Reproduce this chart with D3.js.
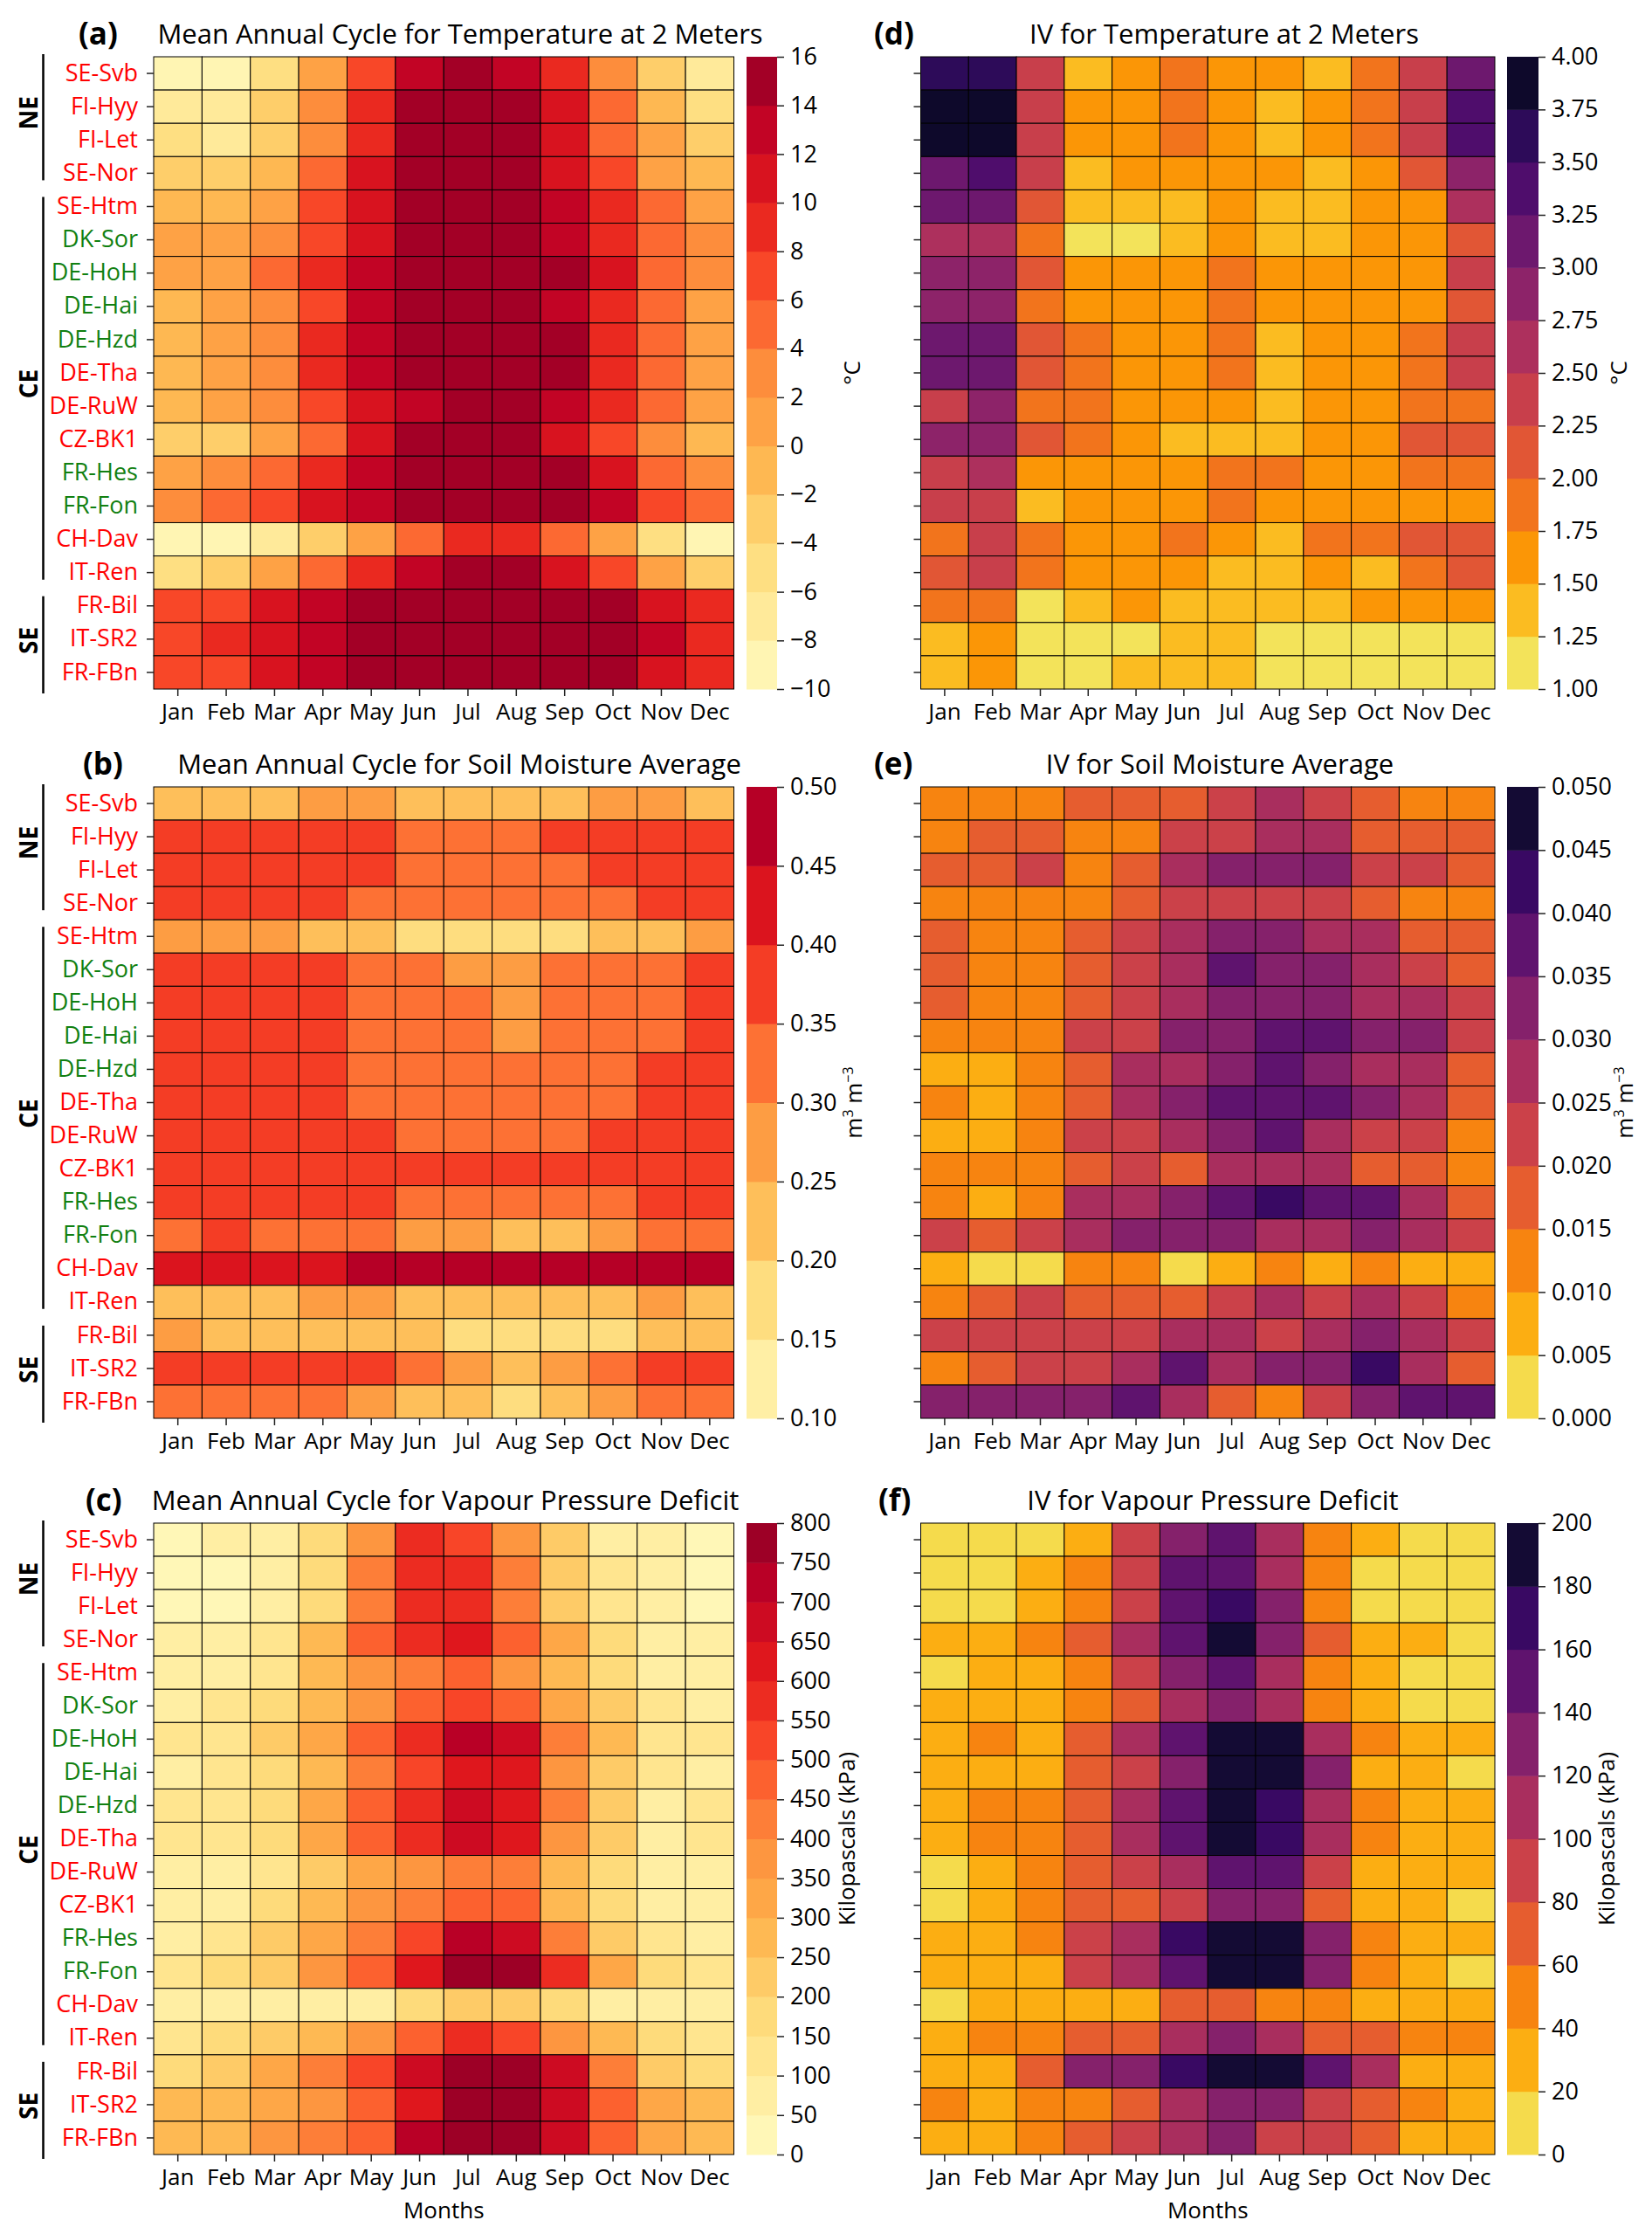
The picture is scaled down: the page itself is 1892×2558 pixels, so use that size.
<!DOCTYPE html>
<html>
<head>
<meta charset="utf-8">
<script src="https://cdn.jsdelivr.net/npm/d3@7"></script>
<style>
  body { margin: 0; background: #fff; }
  text { font-family: "Open Sans", "Noto Sans", sans-serif; fill: #000; }
</style>
</head>
<body>
<svg id="fig" width="1892" height="2558"></svg>
<script>
var months = ["Jan", "Feb", "Mar", "Apr", "May", "Jun", "Jul", "Aug", "Sep", "Oct", "Nov", "Dec"];
var sites = ["SE-Svb", "FI-Hyy", "FI-Let", "SE-Nor", "SE-Htm", "DK-Sor", "DE-HoH", "DE-Hai", "DE-Hzd",
             "DE-Tha", "DE-RuW", "CZ-BK1", "FR-Hes", "FR-Fon", "CH-Dav", "IT-Ren", "FR-Bil", "IT-SR2", "FR-FBn"];
var greenSites = ["DK-Sor", "DE-HoH", "DE-Hai", "DE-Hzd", "FR-Hes", "FR-Fon"];
var groups = [
  {name: "NE", first: "SE-Svb", last: "SE-Nor"},
  {name: "CE", first: "SE-Htm", last: "IT-Ren"},
  {name: "SE", first: "FR-Bil", last: "FR-FBn"}
];

// colorbar ticks
var t2mTicks = [-10, -8, -6, -4, -2, 0, 2, 4, 6, 8, 10, 12, 14, 16];
var smTicks = [0.10, 0.15, 0.20, 0.25, 0.30, 0.35, 0.40, 0.45, 0.50];
var vpdTicks = [0, 50, 100, 150, 200, 250, 300, 350, 400, 450, 500, 550, 600, 650, 700, 750, 800];
var t2mIVTicks = [1.00, 1.25, 1.50, 1.75, 2.00, 2.25, 2.50, 2.75, 3.00, 3.25, 3.50, 3.75, 4.00];
var smIVTicks = [0, 0.005, 0.010, 0.015, 0.020, 0.025, 0.030, 0.035, 0.040, 0.045, 0.050];
var vpdIVTicks = [0, 20, 40, 60, 80, 100, 120, 140, 160, 180, 200];

// (a) mean annual cycle, 2 m temperature (°C), one row per site
var t2mMean = [
  [-9, -9, -5, 1, 7, 13, 15, 13, 9, 3, -3, -7],
  [-7, -7, -3, 3, 9, 15, 15, 15, 11, 5, -1, -5],
  [-5, -7, -3, 3, 9, 15, 15, 15, 11, 5, 1, -3],
  [-3, -3, -1, 5, 11, 15, 15, 15, 11, 7, 1, -1],
  [-1, -1, 1, 7, 11, 15, 15, 15, 13, 9, 5, 1],
  [1, 1, 3, 7, 11, 15, 15, 15, 13, 9, 5, 3],
  [1, 1, 5, 9, 13, 15, 15, 15, 15, 11, 5, 3],
  [-1, 1, 3, 7, 13, 15, 15, 15, 13, 9, 5, 1],
  [-1, 1, 3, 9, 13, 15, 15, 15, 15, 9, 5, 1],
  [-1, 1, 3, 9, 13, 15, 15, 15, 15, 9, 5, 1],
  [-1, 1, 3, 7, 11, 13, 15, 15, 13, 9, 5, 1],
  [-3, -3, 1, 5, 11, 15, 15, 15, 11, 7, 3, -1],
  [1, 3, 5, 9, 13, 15, 15, 15, 15, 11, 5, 3],
  [3, 5, 7, 11, 13, 15, 15, 15, 15, 13, 7, 5],
  [-9, -9, -7, -3, 1, 5, 9, 9, 5, 1, -5, -9],
  [-5, -3, 1, 5, 9, 13, 15, 15, 11, 7, 1, -3],
  [7, 7, 11, 13, 15, 15, 15, 15, 15, 15, 11, 9],
  [7, 9, 11, 13, 15, 15, 15, 15, 15, 15, 13, 9],
  [7, 7, 11, 13, 15, 15, 15, 15, 15, 15, 11, 9]
];

// (b) mean annual cycle, soil moisture (m3 m-3)
var smMean = [
  [.225, .225, .225, .275, .275, .225, .225, .225, .225, .275, .275, .225],
  [.375, .375, .375, .375, .375, .325, .325, .325, .375, .375, .375, .375],
  [.375, .375, .375, .375, .375, .325, .325, .325, .325, .375, .375, .375],
  [.375, .375, .375, .375, .325, .325, .325, .325, .325, .325, .375, .375],
  [.275, .275, .275, .225, .225, .175, .175, .175, .175, .225, .225, .275],
  [.375, .375, .375, .375, .325, .325, .275, .275, .325, .325, .325, .375],
  [.375, .375, .375, .375, .325, .325, .325, .275, .325, .325, .325, .375],
  [.375, .375, .375, .375, .325, .325, .325, .275, .325, .325, .325, .375],
  [.375, .375, .375, .375, .325, .325, .325, .325, .325, .325, .375, .375],
  [.375, .375, .375, .375, .325, .325, .325, .325, .325, .325, .375, .375],
  [.375, .375, .375, .375, .375, .325, .325, .325, .325, .375, .375, .375],
  [.375, .375, .375, .375, .375, .375, .375, .375, .375, .375, .375, .375],
  [.375, .375, .375, .375, .375, .325, .325, .325, .325, .325, .375, .375],
  [.325, .375, .325, .325, .325, .275, .275, .225, .225, .275, .325, .325],
  [.425, .425, .425, .425, .475, .475, .475, .475, .475, .475, .475, .475],
  [.225, .225, .225, .275, .275, .225, .225, .225, .225, .225, .275, .225],
  [.275, .225, .225, .225, .225, .225, .175, .175, .175, .175, .225, .225],
  [.375, .375, .375, .375, .375, .325, .275, .225, .275, .325, .375, .375],
  [.325, .325, .325, .325, .275, .225, .225, .175, .225, .275, .325, .325]
];

// (c) mean annual cycle, vapour pressure deficit (kPa)
var vpdMean = [
  [25, 75, 75, 175, 375, 575, 525, 375, 225, 75, 75, 25],
  [25, 25, 75, 175, 425, 575, 575, 425, 225, 125, 75, 25],
  [25, 25, 75, 175, 425, 575, 575, 425, 225, 125, 75, 25],
  [75, 75, 125, 275, 475, 575, 625, 475, 325, 175, 75, 75],
  [75, 75, 125, 275, 375, 425, 475, 375, 275, 175, 75, 75],
  [75, 125, 175, 275, 375, 475, 525, 475, 325, 225, 125, 75],
  [125, 125, 225, 325, 475, 575, 725, 675, 425, 275, 125, 125],
  [75, 125, 175, 275, 425, 525, 625, 625, 375, 225, 125, 75],
  [125, 125, 175, 325, 475, 575, 675, 625, 425, 225, 75, 125],
  [125, 125, 175, 325, 475, 575, 675, 625, 375, 225, 75, 125],
  [75, 75, 125, 225, 325, 375, 425, 425, 275, 175, 75, 75],
  [75, 75, 175, 275, 375, 425, 475, 475, 275, 175, 75, 75],
  [75, 125, 225, 325, 425, 525, 725, 675, 425, 225, 125, 75],
  [125, 175, 225, 375, 475, 625, 775, 775, 575, 325, 175, 125],
  [75, 75, 75, 75, 75, 175, 225, 225, 175, 75, 75, 75],
  [125, 175, 225, 275, 375, 475, 575, 525, 375, 275, 175, 125],
  [175, 225, 325, 425, 525, 675, 775, 775, 675, 425, 225, 175],
  [275, 275, 325, 375, 475, 625, 775, 775, 675, 475, 325, 275],
  [275, 275, 375, 425, 475, 725, 775, 775, 675, 475, 325, 275]
];

// (d) interannual variability, 2 m temperature (°C)
var t2mIV = [
  [3.625, 3.625, 2.375, 1.375, 1.625, 1.875, 1.625, 1.625, 1.375, 1.875, 2.375, 3.125],
  [3.875, 3.875, 2.375, 1.625, 1.625, 1.875, 1.625, 1.375, 1.625, 1.875, 2.375, 3.375],
  [3.875, 3.875, 2.375, 1.625, 1.625, 1.875, 1.625, 1.375, 1.625, 1.875, 2.375, 3.375],
  [3.125, 3.375, 2.375, 1.375, 1.625, 1.625, 1.625, 1.625, 1.375, 1.625, 2.125, 2.875],
  [3.125, 3.125, 2.125, 1.375, 1.375, 1.375, 1.625, 1.375, 1.375, 1.625, 1.625, 2.625],
  [2.625, 2.625, 1.875, 1.125, 1.125, 1.375, 1.625, 1.375, 1.375, 1.625, 1.625, 2.125],
  [2.875, 2.875, 2.125, 1.625, 1.625, 1.625, 1.875, 1.625, 1.625, 1.625, 1.625, 2.375],
  [2.875, 2.875, 1.875, 1.625, 1.625, 1.625, 1.875, 1.625, 1.625, 1.625, 1.625, 2.125],
  [3.125, 3.125, 2.125, 1.875, 1.625, 1.625, 1.875, 1.375, 1.625, 1.625, 1.875, 2.375],
  [3.125, 3.125, 2.125, 1.875, 1.625, 1.625, 1.875, 1.375, 1.625, 1.625, 1.875, 2.375],
  [2.375, 2.875, 1.875, 1.875, 1.625, 1.625, 1.625, 1.375, 1.625, 1.625, 1.875, 1.875],
  [2.875, 2.875, 2.125, 1.875, 1.625, 1.375, 1.375, 1.375, 1.625, 1.625, 2.125, 2.125],
  [2.375, 2.625, 1.625, 1.625, 1.625, 1.625, 1.875, 1.875, 1.625, 1.625, 1.875, 1.875],
  [2.375, 2.375, 1.375, 1.625, 1.625, 1.625, 1.875, 1.625, 1.625, 1.625, 1.625, 1.625],
  [1.875, 2.375, 1.875, 1.625, 1.625, 1.875, 1.625, 1.375, 1.875, 1.875, 2.125, 2.125],
  [2.125, 2.375, 1.875, 1.625, 1.625, 1.625, 1.375, 1.375, 1.625, 1.375, 1.875, 2.125],
  [1.875, 1.875, 1.125, 1.375, 1.625, 1.375, 1.375, 1.375, 1.375, 1.625, 1.625, 1.625],
  [1.375, 1.625, 1.125, 1.125, 1.125, 1.375, 1.375, 1.125, 1.125, 1.125, 1.125, 1.125],
  [1.375, 1.625, 1.125, 1.125, 1.375, 1.375, 1.375, 1.125, 1.125, 1.125, 1.125, 1.125]
];

// (e) interannual variability, soil moisture (m3 m-3)
var smIV = [
  [.0125, .0125, .0125, .0175, .0175, .0175, .0225, .0275, .0225, .0175, .0125, .0125],
  [.0125, .0175, .0175, .0125, .0125, .0225, .0225, .0275, .0275, .0175, .0175, .0175],
  [.0175, .0175, .0225, .0125, .0175, .0275, .0325, .0325, .0325, .0225, .0225, .0175],
  [.0125, .0125, .0125, .0125, .0175, .0225, .0225, .0225, .0225, .0175, .0125, .0125],
  [.0175, .0125, .0125, .0175, .0225, .0275, .0325, .0325, .0275, .0275, .0175, .0175],
  [.0175, .0125, .0125, .0175, .0225, .0275, .0375, .0325, .0325, .0275, .0225, .0175],
  [.0175, .0125, .0125, .0175, .0225, .0275, .0325, .0325, .0325, .0275, .0275, .0225],
  [.0125, .0125, .0125, .0225, .0225, .0325, .0325, .0375, .0375, .0325, .0325, .0225],
  [.0075, .0075, .0125, .0175, .0275, .0275, .0325, .0375, .0325, .0275, .0275, .0175],
  [.0125, .0075, .0125, .0175, .0275, .0325, .0375, .0375, .0375, .0325, .0275, .0175],
  [.0075, .0075, .0125, .0225, .0225, .0275, .0325, .0375, .0275, .0225, .0225, .0125],
  [.0125, .0125, .0125, .0175, .0225, .0175, .0275, .0275, .0275, .0175, .0175, .0125],
  [.0125, .0075, .0125, .0275, .0275, .0325, .0375, .0425, .0375, .0375, .0275, .0175],
  [.0225, .0175, .0225, .0275, .0325, .0325, .0325, .0275, .0275, .0325, .0275, .0225],
  [.0075, .0025, .0025, .0125, .0125, .0025, .0075, .0125, .0075, .0125, .0075, .0075],
  [.0125, .0175, .0225, .0175, .0175, .0175, .0225, .0275, .0225, .0275, .0225, .0125],
  [.0225, .0225, .0225, .0225, .0225, .0275, .0275, .0225, .0275, .0325, .0275, .0225],
  [.0125, .0175, .0225, .0225, .0275, .0375, .0275, .0325, .0325, .0425, .0275, .0175],
  [.0325, .0325, .0325, .0325, .0375, .0275, .0175, .0125, .0225, .0325, .0375, .0375]
];

// (f) interannual variability, vapour pressure deficit (kPa)
var vpdIV = [
  [10, 10, 10, 30, 90, 130, 150, 110, 50, 30, 10, 10],
  [10, 10, 30, 50, 90, 150, 150, 110, 50, 10, 10, 10],
  [10, 10, 30, 50, 90, 150, 170, 130, 50, 10, 10, 10],
  [30, 30, 50, 70, 110, 150, 190, 130, 70, 30, 30, 10],
  [10, 30, 30, 50, 90, 130, 150, 110, 50, 30, 10, 10],
  [30, 30, 30, 50, 70, 110, 130, 110, 50, 30, 10, 10],
  [30, 50, 30, 70, 110, 150, 190, 190, 110, 50, 30, 30],
  [30, 30, 30, 70, 90, 130, 190, 190, 130, 30, 30, 10],
  [30, 50, 50, 70, 110, 150, 190, 170, 110, 50, 30, 30],
  [30, 50, 50, 70, 110, 150, 190, 170, 110, 50, 30, 30],
  [10, 30, 50, 70, 90, 110, 150, 150, 90, 30, 30, 30],
  [10, 30, 50, 70, 70, 90, 130, 130, 70, 30, 30, 10],
  [30, 30, 50, 90, 110, 170, 190, 190, 130, 50, 30, 30],
  [30, 30, 30, 90, 110, 150, 190, 190, 130, 50, 30, 10],
  [10, 30, 30, 30, 30, 70, 70, 50, 50, 30, 30, 30],
  [30, 50, 50, 70, 70, 110, 130, 110, 70, 70, 50, 50],
  [30, 30, 70, 130, 130, 170, 190, 190, 150, 110, 30, 30],
  [50, 30, 50, 50, 70, 110, 130, 130, 90, 70, 50, 30],
  [30, 30, 50, 70, 90, 110, 130, 90, 90, 70, 30, 30]
];

var svg = d3.select("#fig");

// matplotlib-style YlOrRd (linear between the brewer anchors) and inferno
var ylOrRd = d3.piecewise(d3.interpolateRgb, ["#ffffcc", "#ffeda0", "#fed976", "#feb24c", "#fd8d3c",
                                              "#fc4e2a", "#e31a1c", "#bd0026", "#800026"]);
var infernoR = function(t) { return d3.interpolateInferno(1 - t); };

// seaborn-like discrete palette: n colours, skipping both ends of the map
var bandColors = function(interp, n) {
  return d3.range(n).map(function(i) { return interp((i + 1) / (n + 1)); });
};

var cols = {
  left:  {x0: 176, x1: 840.5, cb0: 855, cb1: 890},
  right: {x0: 1054.5, x1: 1712, cb0: 1726, cb1: 1762}
};
var rowsY = [{y0: 65, y1: 789}, {y0: 901, y1: 1624}, {y0: 1744, y1: 2467}];

var panels = [
  {letter: "(a)", title: "Mean Annual Cycle for Temperature at 2 Meters", values: t2mMean, ticks: t2mTicks,
   cmap: ylOrRd, fmt: d3.format("d"), unit: "°C", col: "left", row: 0, titleX: 527, letterX: 90, unitX: 985},
  {letter: "(b)", title: "Mean Annual Cycle for Soil Moisture Average", values: smMean, ticks: smTicks,
   cmap: ylOrRd, fmt: d3.format(".2f"), unit: "m3", col: "left", row: 1, titleX: 526, letterX: 95, unitX: 987},
  {letter: "(c)", title: "Mean Annual Cycle for Vapour Pressure Deficit", values: vpdMean, ticks: vpdTicks,
   cmap: ylOrRd, fmt: d3.format("d"), unit: "Kilopascals (kPa)", col: "left", row: 2, titleX: 510, letterX: 98, unitX: 979},
  {letter: "(d)", title: "IV for Temperature at 2 Meters", values: t2mIV, ticks: t2mIVTicks,
   cmap: infernoR, fmt: d3.format(".2f"), unit: "°C", col: "right", row: 0, titleX: 1402, letterX: 1001, unitX: 1863},
  {letter: "(e)", title: "IV for Soil Moisture Average", values: smIV, ticks: smIVTicks,
   cmap: infernoR, fmt: d3.format(".3f"), unit: "m3", col: "right", row: 1, titleX: 1397, letterX: 1001, unitX: 1870},
  {letter: "(f)", title: "IV for Vapour Pressure Deficit", values: vpdIV, ticks: vpdIVTicks,
   cmap: infernoR, fmt: d3.format("d"), unit: "Kilopascals (kPa)", col: "right", row: 2, titleX: 1389, letterX: 1006, unitX: 1849}
];

var styleAxisText = function(sel, size) {
  sel.selectAll("text").style("font-size", size + "px").style("font-family", "'Open Sans', sans-serif");
  sel.selectAll("line").attr("stroke", "#222").attr("stroke-width", 1.5);
};

var drawPanel = function(p) {
  var c = cols[p.col], r = rowsY[p.row];
  var g = svg.append("g");
  var x = d3.scaleBand().domain(months).range([c.x0, c.x1]);
  var y = d3.scaleBand().domain(sites).range([r.y0, r.y1]);
  var colors = bandColors(p.cmap, p.ticks.length - 1);
  var color = d3.scaleThreshold().domain(p.ticks.slice(1, -1)).range(colors);

  var cells = [];
  p.values.forEach(function(row, i) {
    row.forEach(function(v, j) { cells.push({site: sites[i], month: months[j], v: v}); });
  });
  g.selectAll("rect.cell").data(cells).join("rect")
      .attr("class", "cell")
      .attr("x", function(d) { return x(d.month); })
      .attr("y", function(d) { return y(d.site); })
      .attr("width", x.bandwidth())
      .attr("height", y.bandwidth())
      .attr("fill", function(d) { return color(d.v); })
      .attr("stroke", "#000")
      .attr("stroke-width", 1);

  // month axis
  var xa = g.append("g").attr("transform", "translate(0," + r.y1 + ")")
      .call(d3.axisBottom(x).tickSize(8).tickPadding(9));
  xa.select(".domain").remove();
  styleAxisText(xa, 26);

  // site axis (labels only on the left column)
  var ya = g.append("g").attr("transform", "translate(" + c.x0 + ",0)")
      .call(d3.axisLeft(y).tickSize(8).tickPadding(10)
        .tickFormat(p.col === "left" ? null : function() { return ""; }));
  ya.select(".domain").remove();
  styleAxisText(ya, 27);
  ya.selectAll("text").style("fill", function(d) { return greenSites.indexOf(d) >= 0 ? "#118011" : "#ff0000"; });

  if (p.col === "left") {
    groups.forEach(function(gr) {
      var top = y(gr.first), bottom = y(gr.last) + y.bandwidth();
      var y1 = gr.name === "NE" ? top - 3 : top + 8;
      var y2 = gr.name === "SE" ? bottom + 5 : bottom - 11;
      g.append("line").attr("x1", 49.5).attr("x2", 49.5).attr("y1", y1).attr("y2", y2)
          .attr("stroke", "#000").attr("stroke-width", 2.5);
      g.append("text")
          .attr("transform", "translate(43," + ((y1 + y2) / 2 - 5) + ") rotate(-90)")
          .attr("text-anchor", "middle")
          .style("font-size", "28px").style("font-weight", "bold")
          .text(gr.name);
    });
  }

  // colorbar
  var cy = d3.scaleLinear().domain([p.ticks[0], p.ticks[p.ticks.length - 1]]).range([r.y1, r.y0]);
  var bands = d3.range(p.ticks.length - 1).map(function(i) {
    return {lo: p.ticks[i], hi: p.ticks[i + 1], fill: colors[i]};
  });
  g.selectAll("rect.band").data(bands).join("rect")
      .attr("class", "band")
      .attr("x", c.cb0)
      .attr("width", c.cb1 - c.cb0)
      .attr("y", function(d) { return cy(d.hi); })
      .attr("height", function(d) { return cy(d.lo) - cy(d.hi) + 0.5; })
      .attr("fill", function(d) { return d.fill; });
  var ca = g.append("g").attr("transform", "translate(" + c.cb1 + ",0)")
      .call(d3.axisRight(cy).tickValues(p.ticks).tickFormat(p.fmt).tickSize(8).tickPadding(7));
  ca.select(".domain").remove();
  styleAxisText(ca, 27);

  var unit = g.append("text")
      .attr("transform", "translate(" + p.unitX + "," + ((r.y0 + r.y1) / 2) + ") rotate(-90)")
      .attr("text-anchor", "middle")
      .style("font-size", "26px");
  if (p.unit === "m3") {
    unit.append("tspan").text("m");
    unit.append("tspan").attr("dy", -10).style("font-size", "16px").text("3");
    unit.append("tspan").attr("dy", 10).text(" m");
    unit.append("tspan").attr("dy", -10).style("font-size", "16px").text("\u22123");
  } else {
    unit.text(p.unit);
  }

  // titles
  g.append("text").attr("x", p.titleX).attr("y", r.y0 - 15)
      .attr("text-anchor", "middle").style("font-size", "31px").text(p.title);
  g.append("text").attr("x", p.letterX).attr("y", r.y0 - 14)
      .style("font-size", "35px").style("font-weight", "bold").text(p.letter);

  if (p.row === 2) {
    g.append("text").attr("x", (c.x0 + c.x1) / 2).attr("y", r.y1 + 73)
        .attr("text-anchor", "middle").style("font-size", "26px").text("Months");
  }
};

panels.forEach(drawPanel);
</script>
</body>
</html>
